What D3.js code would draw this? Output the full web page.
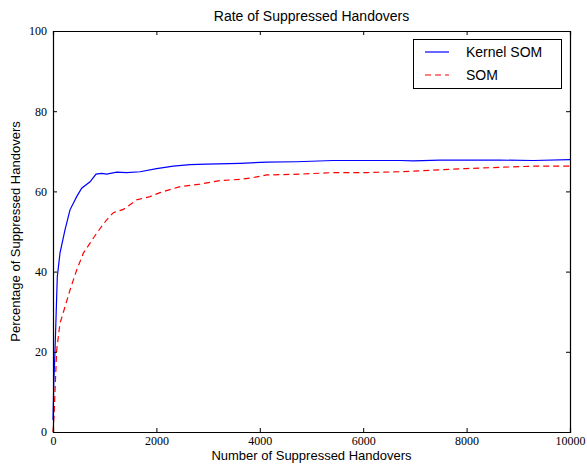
<!DOCTYPE html>
<html>
<head>
<meta charset="utf-8">
<script src="https://cdn.jsdelivr.net/npm/d3@7"></script>
<style>
  body { margin: 0; background: #fff; }
  .tick text { font-family: "Liberation Serif", "DejaVu Serif", serif; font-size: 12px; fill: #000; }
  .lbl { font-family: "Liberation Sans", Arial, sans-serif; font-size: 13px; fill: #000; }
</style>
</head>
<body>
<div id="chart"></div>
<script>
// values
const kernelX = [0, 15, 39, 83, 135, 232, 329, 458, 555, 716, 832, 942, 1038, 1232, 1425, 1683, 2005, 2327, 2650, 2973, 3617, 4133, 4700, 5422, 6100, 6712, 6970, 7485, 8646, 9291, 10000];
const kernelY = [3, 12, 20.4, 38.7, 44.6, 50.4, 55.4, 58.7, 60.8, 62.4, 64.3, 64.5, 64.3, 64.8, 64.7, 64.9, 65.7, 66.3, 66.7, 66.8, 67.0, 67.3, 67.4, 67.7, 67.7, 67.7, 67.6, 67.8, 67.8, 67.7, 67.9];
const somX = [0, 20, 71, 135, 232, 329, 458, 587, 716, 845, 1038, 1167, 1360, 1619, 1876, 2070, 2456, 2843, 3230, 3617, 3810, 4133, 4778, 5422, 6068, 6712, 7356, 8002, 8646, 9291, 10000];
const somY = [0, 4, 20.4, 27.1, 31.2, 35.4, 40.4, 44.6, 47.1, 49.6, 52.9, 54.7, 55.5, 57.9, 58.7, 59.7, 61.2, 61.8, 62.7, 63.0, 63.3, 64.1, 64.3, 64.7, 64.7, 64.9, 65.3, 65.7, 66.0, 66.3, 66.3];
const xTicks = [0, 2000, 4000, 6000, 8000, 10000];
const yTicks = [0, 20, 40, 60, 80, 100];
const seriesNames = ["Kernel SOM", "SOM"];

const width = 587, height = 464;
const margin = {left: 53, top: 31, right: 17, bottom: 32};
const w = width - margin.left - margin.right;
const h = height - margin.top - margin.bottom;

let svg = d3.select("#chart")
    .append("svg")
    .attr("width", width)
    .attr("height", height);

let g = svg.append("g")
    .attr("transform", `translate(${margin.left}, ${margin.top})`);

let x = d3.scaleLinear().domain([0, 10000]).range([0, w]);
let y = d3.scaleLinear().domain([0, 100]).range([h, 0]);

let line = d3.line()
    .x(d => x(d[0]))
    .y(d => y(d[1]));

let kernelData = kernelX.map((v, i) => [v, kernelY[i]]);
let somData = somX.map((v, i) => [v, somY[i]]);

g.append("path")
    .datum(kernelData)
    .attr("fill", "none")
    .attr("stroke", "#0000ff")
    .attr("stroke-width", 1.2)
    .attr("d", line);

g.append("path")
    .datum(somData)
    .attr("fill", "none")
    .attr("stroke", "#ff0000")
    .attr("stroke-width", 1.2)
    .attr("stroke-dasharray", "6,4")
    .attr("d", line);

// axes, ticks pointing inward (on all four sides)
let xb = g.append("g").attr("transform", `translate(0, ${h})`)
    .call(d3.axisBottom(x).tickValues(xTicks).tickSize(-4).tickPadding(4).tickFormat(d3.format("d")));
let xt = g.append("g")
    .call(d3.axisTop(x).tickValues(xTicks).tickSize(-4).tickFormat(""));
let yl = g.append("g")
    .call(d3.axisLeft(y).tickValues(yTicks).tickSize(-4).tickPadding(6).tickFormat(d3.format("d")));
let yr = g.append("g").attr("transform", `translate(${w}, 0)`)
    .call(d3.axisRight(y).tickValues(yTicks).tickSize(-4).tickFormat(""));

[xb, xt, yl, yr].forEach(a => {
  a.select(".domain").attr("stroke", "#000").attr("stroke-width", 1.2);
  a.selectAll(".tick line").attr("stroke", "#000");
});

// title and axis labels
svg.append("text")
    .attr("class", "lbl")
    .attr("x", margin.left + w / 2)
    .attr("y", 21)
    .attr("text-anchor", "middle")
    .style("font-size", "14px")
    .text("Rate of Suppressed Handovers");

svg.append("text")
    .attr("class", "lbl")
    .attr("x", margin.left + w / 2)
    .attr("y", 460)
    .attr("text-anchor", "middle")
    .text("Number of Suppressed Handovers");

svg.append("text")
    .attr("class", "lbl")
    .attr("transform", `translate(20, ${margin.top + h / 2}) rotate(-90)`)
    .attr("text-anchor", "middle")
    .text("Percentage of Suppressed Handovers");

// legend
let legend = svg.append("g");
legend.append("rect")
    .attr("x", 413.5).attr("y", 39.5)
    .attr("width", 148).attr("height", 49)
    .attr("fill", "#fff").attr("stroke", "#000").attr("stroke-width", 1);

let legColors = ["#0000ff", "#ff0000"];
let legDash = [null, "6,4"];
seriesNames.forEach((name, i) => {
  let ly = 52 + i * 23;
  legend.append("line")
      .attr("x1", 425).attr("x2", 449)
      .attr("y1", ly).attr("y2", ly)
      .attr("stroke", legColors[i])
      .attr("stroke-width", 1.2)
      .attr("stroke-dasharray", legDash[i]);
  legend.append("text")
      .attr("class", "lbl")
      .attr("x", 466).attr("y", ly + 5)
      .style("font-size", "14px")
      .text(name);
});
</script>
</body>
</html>
